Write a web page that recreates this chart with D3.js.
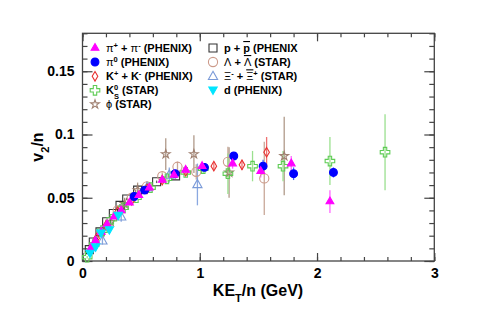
<!DOCTYPE html>
<html><head><meta charset="utf-8">
<script src="https://cdn.jsdelivr.net/npm/d3@7"></script>
<style>
body{margin:0;background:#fff;}
text{font-family:"Liberation Sans",Arial,sans-serif;}
</style></head>
<body>
<svg id="c" width="483" height="327"></svg>
<script>
// ---- data: [KE_T/n, v2/n, error] ----
const piCharged = [[0.07,0.010,0.001],[0.11,0.016,0.001],[0.16,0.023,0.001],[0.21,0.029,0.001],[0.27,0.035,0.001],[0.33,0.040,0.001],[0.40,0.046,0.001],[0.48,0.052,0.001],[0.57,0.058,0.001],[0.68,0.064,0.001],[0.78,0.068,0.001],[0.88,0.072,0.002],[1.02,0.075,0.002],[1.28,0.077,0.004],[1.52,0.071,0.005],[1.78,0.077,0.006],[2.11,0.047,0.009]];
const piZero = [[0.44,0.051,0.002],[0.53,0.056,0.002],[0.79,0.069,0.002],[1.04,0.074,0.002],[1.29,0.083,0.003],[1.54,0.075,0.005],[1.80,0.069,0.005],[2.14,0.070,0.004]];
const kaonCharged = [[0.12,0.018,0.001],[0.20,0.028,0.001],[0.30,0.039,0.002],[0.42,0.048,0.002],[0.55,0.057,0.002],[0.68,0.064,0.002],[0.88,0.071,0.002],[1.12,0.075,0.003],[1.36,0.076,0.004],[1.57,0.086,0.012]];
const kaonShort = [[0.04,0.003,0.001],[0.10,0.013,0.001],[0.17,0.024,0.001],[0.25,0.033,0.001],[0.35,0.042,0.002],[0.46,0.050,0.002],[0.58,0.058,0.002],[0.72,0.065,0.003],[0.88,0.070,0.003],[1.03,0.073,0.004],[1.24,0.069,0.016],[1.45,0.075,0.012],[1.71,0.075,0.012],[2.11,0.079,0.019],[2.58,0.086,0.030]];
const phiMeson = [[0.24,0.031,0.004],[0.36,0.045,0.005],[0.47,0.056,0.006],[0.71,0.0845,0.0125],[0.95,0.0845,0.015],[1.25,0.070,0.020],[1.72,0.083,0.031]];
const proton = [[0.058,0.009,0.001],[0.092,0.015,0.001],[0.149,0.023,0.001],[0.206,0.031,0.001],[0.263,0.0376,0.001],[0.320,0.044,0.001],[0.377,0.049,0.001],[0.470,0.056,0.001],[0.632,0.0626,0.001],[0.794,0.0673,0.002]];
const lambda = [[0.30,0.040,0.002],[0.42,0.050,0.002],[0.55,0.059,0.003],[0.68,0.067,0.003],[0.81,0.0745,0.004],[0.97,0.0705,0.006],[1.24,0.0784,0.012],[1.55,0.0653,0.029]];
const xi = [[0.17,0.016,0.003],[0.33,0.035,0.004],[0.55,0.058,0.005],[0.74,0.068,0.006],[0.98,0.0605,0.0165]];
const deuteron = [[0.064,0.006,0.001],[0.112,0.011,0.001],[0.158,0.022,0.002],[0.229,0.0245,0.002],[0.305,0.036,0.002]];
const xMajorTicks = [0,1,2,3];
const yMajorTicks = [0,0.05,0.1,0.15];

const svg = d3.select("#c");
const W=483,H=327;
svg.append("rect").attr("width",W).attr("height",H).attr("fill","#fff");
const L=82.5,R=434.3,T=33.3,B=261;
const x = d3.scaleLinear().domain([0,3]).range([L,R]);
const y = d3.scaleLinear().domain([0,0.18]).range([B,T]);

const axCol="#444";
function styleAx(g){g.select(".domain").remove();g.selectAll("line").attr("stroke",axCol).attr("stroke-width",1.2);
  g.selectAll("text").attr("font-size",14).attr("font-weight","bold").attr("fill","#000").attr("font-family","Liberation Sans, Arial, sans-serif");}
const minX=d3.range(0,3.001,0.2), minY=d3.range(0,0.1801,0.01);
svg.append("g").attr("transform",`translate(0,${B})`).call(d3.axisBottom(x).tickValues(xMajorTicks).tickSize(-8).tickPadding(7).tickFormat(d3.format("d"))).call(styleAx);
svg.append("g").attr("transform",`translate(0,${B})`).call(d3.axisBottom(x).tickValues(minX).tickSize(-4).tickFormat("")).call(styleAx);
svg.append("g").attr("transform",`translate(0,${T})`).call(d3.axisTop(x).tickValues(xMajorTicks).tickSize(-8).tickFormat("")).call(styleAx);
svg.append("g").attr("transform",`translate(0,${T})`).call(d3.axisTop(x).tickValues(minX).tickSize(-4).tickFormat("")).call(styleAx);
svg.append("g").attr("transform",`translate(${L},0)`).call(d3.axisLeft(y).tickValues(yMajorTicks).tickSize(-10).tickPadding(8).tickFormat(d=>d===0?"0":String(d))).call(styleAx);
svg.append("g").attr("transform",`translate(${L},0)`).call(d3.axisLeft(y).tickValues(minY).tickSize(-5).tickFormat("")).call(styleAx);
svg.append("g").attr("transform",`translate(${R},0)`).call(d3.axisRight(y).tickValues(yMajorTicks).tickSize(-10).tickFormat("")).call(styleAx);
svg.append("g").attr("transform",`translate(${R},0)`).call(d3.axisRight(y).tickValues(minY).tickSize(-5).tickFormat("")).call(styleAx);
svg.append("rect").attr("x",L).attr("y",T).attr("width",R-L).attr("height",B-T).attr("fill","none").attr("stroke",axCol).attr("stroke-width",1.3);

// marker shapes
const shp = {
  triUp: d3.symbol(d3.symbolTriangle,26)(),
  triDown: "M-4.2,-3.2L4.2,-3.2L0,4.2Z",
  circle: d3.symbol(d3.symbolCircle,48)(),
  circleBig: d3.symbol(d3.symbolCircle,66)(),
  diamond: "M0,-4.8L2.8,0L0,4.8L-2.8,0Z",
  plus: "M-1.7,-4.8L1.7,-4.8L1.7,-1.7L4.8,-1.7L4.8,1.7L1.7,1.7L1.7,4.8L-1.7,4.8L-1.7,1.7L-4.8,1.7L-4.8,-1.7L-1.7,-1.7Z",
  star: d3.symbol(d3.symbolStar,24)(),
  square: "M-4,-4L4,-4L4,4L-4,4Z",
  triOpen: "M0,-5L4.6,3.2L-4.6,3.2Z"
};
const series = [
  {data:proton, shape:"square", fill:"none", stroke:"#333", err:"#666"},
  {data:lambda, shape:"circleBig", fill:"none", stroke:"#cc9a8a", err:"#c8a898"},
  {data:xi, shape:"triOpen", fill:"none", stroke:"#7a9ad8", err:"#8aa8e0"},
  {data:phiMeson, shape:"star", fill:"none", stroke:"#a08070", err:"#b09a8a"},
  {data:kaonShort, shape:"plus", fill:"none", stroke:"#5fcc55", err:"#9be08f"},
  {data:kaonCharged, shape:"diamond", fill:"none", stroke:"#e83030", err:"#ee7070"},
  {data:piZero, shape:"circle", fill:"#0000ff", stroke:"#0000ff", err:"#4466ff"},
  {data:piCharged, shape:"triUp", fill:"#ff00ff", stroke:"#ff00ff", err:"#ff66ff"},
  {data:deuteron, shape:"triDown", fill:"#00e5ff", stroke:"#00e5ff", err:"#55eeff"}
];
series.forEach(s=>{
  svg.append("g").selectAll("line").data(s.data).join("line")
    .attr("x1",d=>x(d[0])).attr("x2",d=>x(d[0]))
    .attr("y1",d=>y(d[1]-d[2])).attr("y2",d=>y(d[1]+d[2]))
    .attr("stroke",s.err).attr("stroke-width",1.3);
});
series.forEach(s=>{
  svg.append("g").selectAll("path").data(s.data).join("path")
    .attr("d",shp[s.shape]).attr("transform",d=>`translate(${x(d[0])},${y(d[1])})`)
    .attr("fill",s.fill).attr("stroke",s.stroke).attr("stroke-width",1.1);
});

// legend
const leg = svg.append("g").attr("font-size",11).attr("font-weight","bold");
function legItem(mx,my,s,build){
  leg.append("path").attr("d",shp[s.shape]).attr("transform",`translate(${mx},${my})`)
    .attr("fill",s.fill).attr("stroke",s.stroke).attr("stroke-width",1.1);
  const t=leg.append("text").attr("x",mx+11).attr("y",my+4);
  build(t);
}
function sup(t,s){t.append("tspan").attr("font-size",7.5).attr("baseline-shift","super").text(s);}
function sub(t,s){t.append("tspan").attr("font-size",7.5).attr("baseline-shift","sub").text(s);}
function txt(t,s,normal){const ts=t.append("tspan").text(s);if(normal)ts.attr("font-weight","normal");return ts;}
const c1=95,c2=213,rows=[48,62,76.3,90.3,104.3];
legItem(c1,rows[0],series[7],t=>{txt(t,"π",1);sup(t,"+");txt(t," + ");txt(t,"π",1);sup(t,"-");txt(t," (PHENIX)");});
legItem(c1,rows[1],series[6],t=>{txt(t,"π",1);sup(t,"0");txt(t," (PHENIX)");});
legItem(c1,rows[2],series[5],t=>{txt(t,"K");sup(t,"+");txt(t," + K");sup(t,"-");txt(t," (PHENIX)");});
legItem(c1,rows[3],series[4],t=>{txt(t,"K");sup(t,"0");t.append("tspan").attr("font-size",7.5).attr("dx",-4.2).attr("baseline-shift","sub").text("S");txt(t," (STAR)");});
legItem(c1,rows[4],series[3],t=>{txt(t,"ϕ",1);txt(t," (STAR)");});
legItem(c2,rows[0],series[0],t=>{txt(t,"p + ");txt(t,"p").style("text-decoration","overline");txt(t," (PHENIX");});
legItem(c2,rows[1],series[1],t=>{txt(t,"Λ",1);txt(t," + ");txt(t,"Λ",1).style("text-decoration","overline");txt(t," (STAR)");});
legItem(c2,rows[2],series[2],t=>{txt(t,"Ξ",1);sup(t,"-");txt(t," + ");txt(t,"Ξ",1).style("text-decoration","overline");sup(t,"+");txt(t," (STAR)");});
legItem(c2,rows[3],series[8],t=>{txt(t,"d (PHENIX)");});

// axis titles
const xt=svg.append("text").attr("x",258).attr("y",296).attr("text-anchor","middle").attr("font-size",16).attr("font-weight","bold");
xt.append("tspan").text("KE");xt.append("tspan").attr("font-size",11).attr("baseline-shift","sub").text("T");xt.append("tspan").text("/n (GeV)");
const yt=svg.append("text").attr("transform","translate(43,147) rotate(-90)").attr("text-anchor","middle").attr("font-size",16).attr("font-weight","bold");
yt.append("tspan").text("v");yt.append("tspan").attr("font-size",11).attr("baseline-shift","sub").text("2");yt.append("tspan").text("/n");
</script>
</body></html>
